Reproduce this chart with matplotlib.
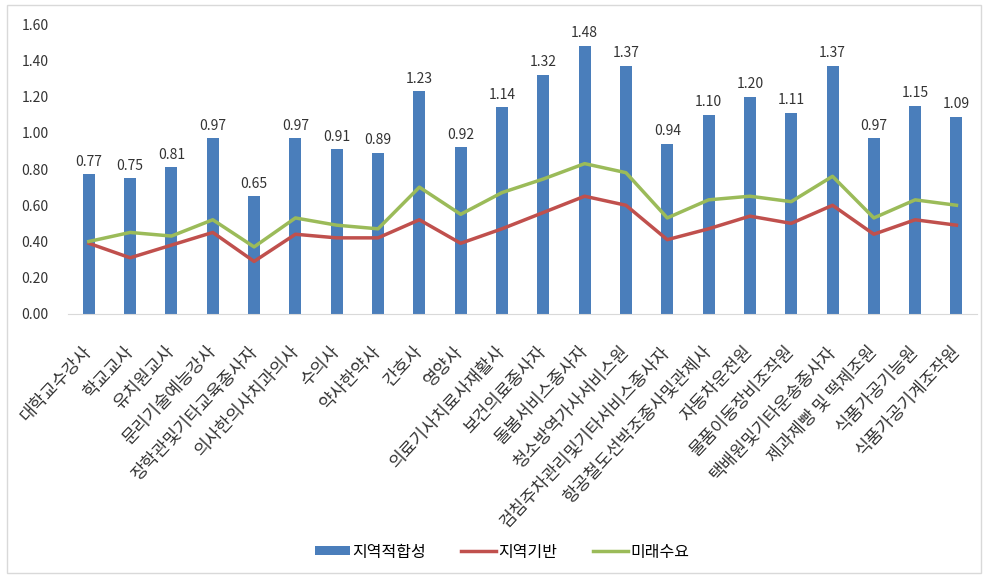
import numpy as np
import matplotlib.pyplot as plt
from matplotlib.patches import Rectangle

plt.rcParams['font.family'] = ['Noto Sans CJK KR', 'DejaVu Sans']

categories = ["대학교수강사", "학교교사", "유치원교사", "문리기술예능강사", "장학관및기타교육종사자",
              "의사한의사치과의사", "수의사", "약사한약사", "간호사", "영양사",
              "의료기사치료사재활사", "보건의료종사자", "돌봄서비스종사자", "청소방역가사서비스원",
              "검침주차관리및기타서비스종사자", "항공철도선박조종사및관제사", "자동차운전원",
              "물품이동장비조작원", "택배원및기타운송종사자", "제과제빵 및 떡제조원",
              "식품가공기능원", "식품가공기계조작원"]
fit = [0.77, 0.75, 0.81, 0.97, 0.65, 0.97, 0.91, 0.89, 1.23, 0.92, 1.14,
       1.32, 1.48, 1.37, 0.94, 1.10, 1.20, 1.11, 1.37, 0.97, 1.15, 1.09]
base = [0.39, 0.31, 0.38, 0.45, 0.29, 0.44, 0.42, 0.42, 0.52, 0.39, 0.47,
        0.56, 0.65, 0.60, 0.41, 0.47, 0.54, 0.50, 0.60, 0.44, 0.52, 0.49]
demand = [0.40, 0.45, 0.43, 0.52, 0.37, 0.53, 0.49, 0.47, 0.70, 0.55, 0.67,
          0.745, 0.83, 0.78, 0.53, 0.63, 0.65, 0.62, 0.76, 0.53, 0.63, 0.60]

fig = plt.figure(figsize=(9.88, 5.76), dpi=100)
ax = fig.add_axes([0.069, 0.455, 0.92, 0.503])

# chart frame
fig.patches.append(Rectangle((0.007, 0.005), 0.986, 0.986, transform=fig.transFigure,
                             fill=False, edgecolor="#d9d9d9", linewidth=1))

x = np.arange(len(categories))
b = ax.bar(x, fit, width=0.29, color="#4A7EBB", label="지역적합성", zorder=2)
l1, = ax.plot(x, base, color="#C0504D", linewidth=2.5, label="지역기반", zorder=3)
l2, = ax.plot(x, demand, color="#9BBB59", linewidth=2.5, label="미래수요", zorder=3)

for xi, v in zip(x, fit):
    ax.text(xi, v + 0.03, "%.2f" % v, ha="center", va="bottom", fontsize=10, color="#333333")

ax.set_xlim(-0.5, len(categories) - 0.5)
ax.set_ylim(0, 1.6)
ax.set_yticks(np.arange(0, 1.61, 0.2))
ax.set_yticklabels(["%.2f" % t for t in np.arange(0, 1.61, 0.2)], fontsize=10, color="#333333")
ax.set_xticks(x)
ax.set_xticklabels(categories, rotation=47, ha="right", va="center", rotation_mode="anchor",
                   fontsize=12.5, color="#333333")
ax.tick_params(axis="x", length=0, pad=25)
ax.tick_params(axis="y", length=0, pad=14)
for s in ["top", "right", "left"]:
    ax.spines[s].set_visible(False)
ax.spines["bottom"].set_color("#d9d9d9")

fig.legend([b, l1, l2], ["지역적합성", "지역기반", "미래수요"], loc="center",
           bbox_to_anchor=(0.508, 1 - 552 / 576), frameon=False, ncol=3, fontsize=11.5,
           handlelength=2.2, handleheight=0.5, columnspacing=2.2, handletextpad=0.15)

fig.savefig("out.png", dpi=100)
